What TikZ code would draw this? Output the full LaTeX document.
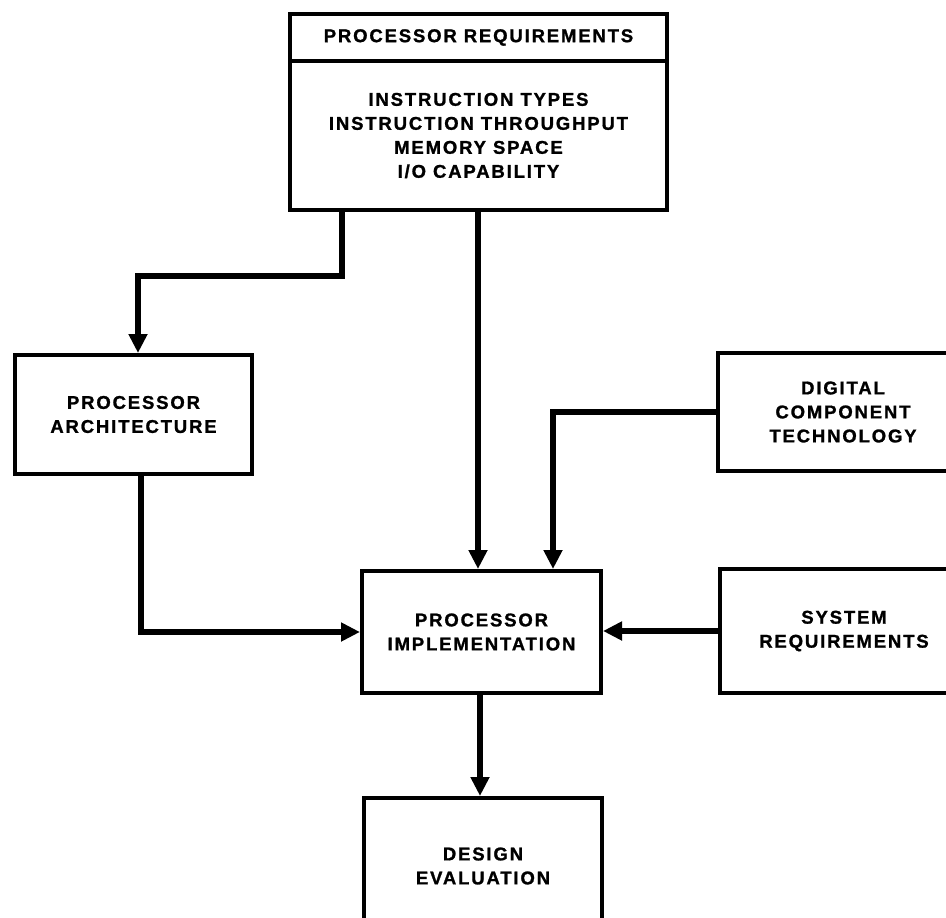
\documentclass[tikz,border=0pt]{standalone}
\usepackage{fontspec}
\setmainfont{Liberation Sans}[LetterSpace=10, BoldFeatures={FakeBold=1.2}]
\usetikzlibrary{arrows.meta}

\tikzset{
  blk/.style={draw, line width=4pt, inner sep=0pt, align=center,
    font=\bfseries\fontsize{18.5}{24}\selectfont},
  conn/.style={line width=5.5pt, -{Triangle[length=19pt,width=18pt]}},
}

\begin{document}
\begin{tikzpicture}[x=1pt,y=-1pt]
  \useasboundingbox (0,0) rectangle (946,918);
  \clip (0,0) rectangle (946,918);

  % requirements box: header strip and list of items
  \node[blk, minimum width=377pt, minimum height=47pt] (hdr) at (478.5,37.5)
    {PROCESSOR REQUIREMENTS};
  \node[blk, minimum width=377pt, minimum height=149pt] (body) at (478.5,135.5)
    {INSTRUCTION TYPES\\INSTRUCTION THROUGHPUT\\MEMORY SPACE\\I/O CAPABILITY};

  % remaining blocks
  \node[blk, minimum width=237pt, minimum height=119pt] (pa) at (133.5,414.5)
    {PROCESSOR\\ARCHITECTURE};
  \node[blk, minimum width=250pt, minimum height=118pt] (dct) at (843,412)
    {DIGITAL\\COMPONENT\\TECHNOLOGY};
  \node[blk, minimum width=239pt, minimum height=122pt] (pi) at (481.5,632)
    {PROCESSOR\\IMPLEMENTATION};
  \node[blk, minimum width=248pt, minimum height=124pt] (sr) at (844,631)
    {SYSTEM\\REQUIREMENTS};
  \node[blk, minimum width=238pt, minimum height=136pt] (de) at (483,866)
    {DESIGN\\EVALUATION};

  % connectors
  \draw[conn] (body.south -| 342,0) |- (138,276) -- (pa.north -| 138,0);
  \draw[conn] (body.south -| 478,0) -- (pi.north -| 478,0);
  \draw[conn] (dct.west) -| (pi.north -| 553,0);
  \draw[conn] (pa.south -| 141,0) |- (pi.west);
  \draw[conn] (sr.west) -- (sr.west -| pi.east);
  \draw[conn] (pi.south -| 480,0) -- (de.north -| 480,0);
\end{tikzpicture}
\end{document}
